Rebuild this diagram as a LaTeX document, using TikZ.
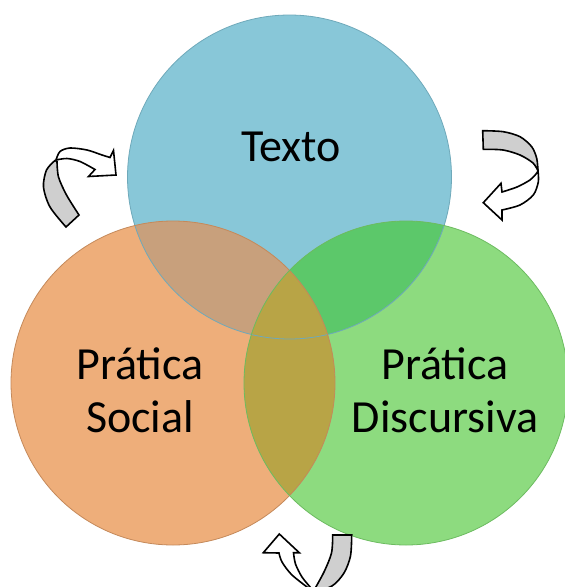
\documentclass[tikz,border=0pt]{standalone}
\usepackage{fontspec}
\setmainfont{Carlito}
\definecolor{textoblue}{HTML}{88C7D8}
\definecolor{textoedge}{HTML}{6FA9BA}
\definecolor{socialorange}{HTML}{EEAE7A}
\definecolor{socialedge}{HTML}{C4895A}
\definecolor{discgreen}{HTML}{8DDB7F}
\definecolor{discedge}{HTML}{6CBB60}
\definecolor{overlapbrown}{HTML}{C8A07C}
\definecolor{overlapteal}{HTML}{5CC86A}
\definecolor{overlapolive}{HTML}{B8A446}
\definecolor{twistgray}{HTML}{CFCFCF}
\begin{document}
\begin{tikzpicture}[x=1pt,y=-1pt,
  ring/.style={circle, inner sep=0pt, minimum size=324pt},
  ringtext/.style={font=\fontsize{46}{53}\selectfont, align=center, inner sep=0pt},
  backside/.style={draw=black, line width=1.6pt, fill=twistgray},
  frontside/.style={draw=black, line width=1.6pt, fill=white}]
\useasboundingbox (0,0) rectangle (565,587);
% the three circles
\node[ring, fill=textoblue] (texto) at (289.5,177) {};
\node[ring, fill=socialorange] (social) at (173,383) {};
\node[ring, fill=discgreen] (disc) at (406,383) {};
% overlaps
\begin{scope}
\clip (texto.center) circle (162pt);
\fill[overlapbrown] (social.center) circle (162pt);
\fill[overlapteal] (disc.center) circle (162pt);
\end{scope}
\begin{scope}
\clip (social.center) circle (162pt);
\fill[overlapolive] (disc.center) circle (162pt);
\end{scope}
\draw[textoedge, line width=0.8pt] (texto.center) circle (162pt);
\draw[socialedge, line width=0.8pt] (social.center) circle (162pt);
\draw[discedge, line width=0.8pt] (disc.center) circle (162pt);
% texts
\node[ringtext, anchor=base] (textolabel) at (291,161) {Texto};
\node[ringtext] (sociallabel) at (140,390) {Prática\\Social};
\node[ringtext] (disclabel) at (445,390) {Prática\\Discursiva};
% curved arrow, left
\filldraw[backside] plot[smooth] coordinates {(66,227) (50,207) (43.5,187) (46.5,170) (55,160.5)}
  -- plot[smooth] coordinates {(57,161.5) (58.5,177) (66.5,195) (79,215)} -- cycle;
\filldraw[frontside] plot[smooth] coordinates {(56,160) (60,151.5) (70,148) (87,150) (102,155) (110,157.5)}
  -- (113.5,150.5) -- (116,175) -- (88.5,176.5) -- (95,169.5)
  -- plot[smooth] coordinates {(95,169.5) (80,161.5) (67,158.5) (56,160)} -- cycle;
% curved arrow, right
\filldraw[backside] plot[smooth] coordinates {(482.7,130.7) (503.3,131.7) (520,136.7) (531.7,146.7) (536.7,158.3) (538,171)}
  -- plot[smooth] coordinates {(538,171) (533,163) (520,155) (503,150) (483.3,149.3)} -- cycle;
\filldraw[frontside] plot[smooth] coordinates {(538,171) (538.3,182) (533.3,195) (520,205) (502,210)}
  -- (502,220) -- (483.3,202.7) -- (501,183.3) -- (502,192)
  -- plot[smooth] coordinates {(502,192) (517,187) (530,180) (536,174) (538,171)} -- cycle;
% curved arrow, bottom
\filldraw[backside] plot[smooth] coordinates {(332.7,535) (351.7,535)}
  -- plot[smooth] coordinates {(351.7,535) (350.5,556) (344,573) (332,586) (313,592)}
  -- plot[smooth] coordinates {(313,592) (324,572) (331.5,553) (332.7,535)} -- cycle;
\filldraw[frontside] plot[smooth] coordinates {(311,590) (292,575) (282,562) (279,553)}
  -- (263.3,552.7) -- (279.3,534) -- (299.3,552.7) -- (293.5,552.7)
  -- plot[smooth] coordinates {(293.5,552.7) (295.5,564) (302,577) (311,588)} -- cycle;
\end{tikzpicture}
\end{document}
